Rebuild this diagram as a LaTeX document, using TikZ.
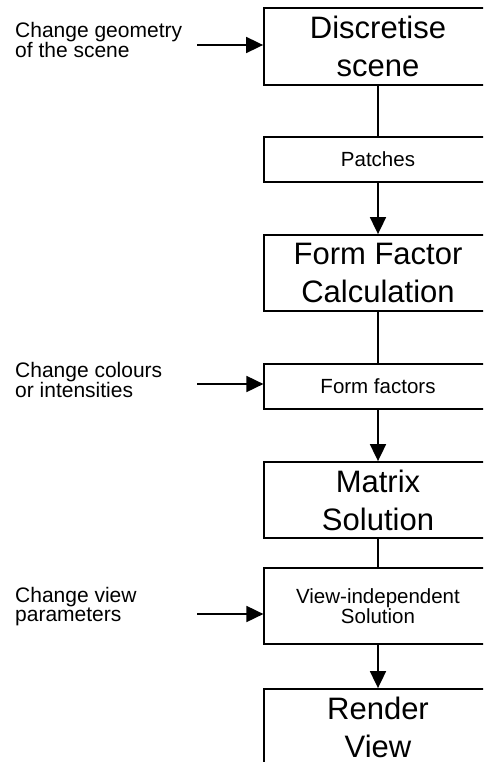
\documentclass[tikz,border=0pt]{standalone}
\usepackage{fontspec}
\setmainfont{Liberation Sans}
\usepackage{xcolor}
\usepackage{tikz}
\usetikzlibrary{arrows.meta,positioning}
\definecolor{inkc}{HTML}{000000}
\tikzset{
  ar/.style={-{Triangle[length=17pt,width=16pt]},line width=1.8pt,inkc},
  ln/.style={line width=1.8pt,inkc},
  stage/.style={draw=inkc,line width=1.8pt,minimum width=228pt,minimum height=77pt,align=center,inner sep=0pt,font=\fontsize{31}{38}\selectfont},
  data/.style={draw=inkc,line width=1.2pt,minimum width=228pt,minimum height=45pt,align=center,inner sep=0pt,font=\fontsize{20.5}{17.5}\selectfont},
  note/.style={anchor=west,align=left,inner sep=0pt,font=\fontsize{21}{17.7}\selectfont}
}

\begin{document}
\begin{tikzpicture}[x=1pt,y=-1pt]
\useasboundingbox (0,0) rectangle (483,762);
\clip (0,0) rectangle (483,762);
% pipeline
\node[stage] (disc) at (378,46.5) {Discretise\\scene};
\node[data] (patch) at (378,159.5) {Patches};
\node[stage,minimum height=76pt] (ffcalc) at (378,273) {Form Factor\\Calculation};
\node[data] (ff) at (378,386.5) {Form factors};
\node[stage,minimum height=76pt] (matsol) at (378,500) {Matrix\\Solution};
\node[data,minimum height=76pt] (vis) at (378,606) {View-independent\\Solution};
\node[stage] (render) at (378,727.5) {Render\\View};
\draw[ln] (disc) -- (patch);
\draw[ar] (patch) -- (ffcalc);
\draw[ln] (ffcalc) -- (ff);
\draw[ar] (ff) -- (matsol);
\draw[ln] (matsol) -- (vis);
\draw[ar] (vis) -- (render);
% changes from outside
\node[note] (geo) at (15,40) {Change geometry\\of the scene};
\node[note] (col) at (15,380) {Change colours\\or intensities};
\node[note] (view) at (15,607) {Change view\\parameters};
\coordinate (g0) at (197,45);
\coordinate (c0) at (197,384);
\coordinate (v0) at (197,614);
\draw[ar] (g0) -- (g0 -| disc.west);
\draw[ar] (c0) -- (c0 -| ff.west);
\draw[ar] (v0) -- (v0 -| vis.west);
\end{tikzpicture}
\end{document}
